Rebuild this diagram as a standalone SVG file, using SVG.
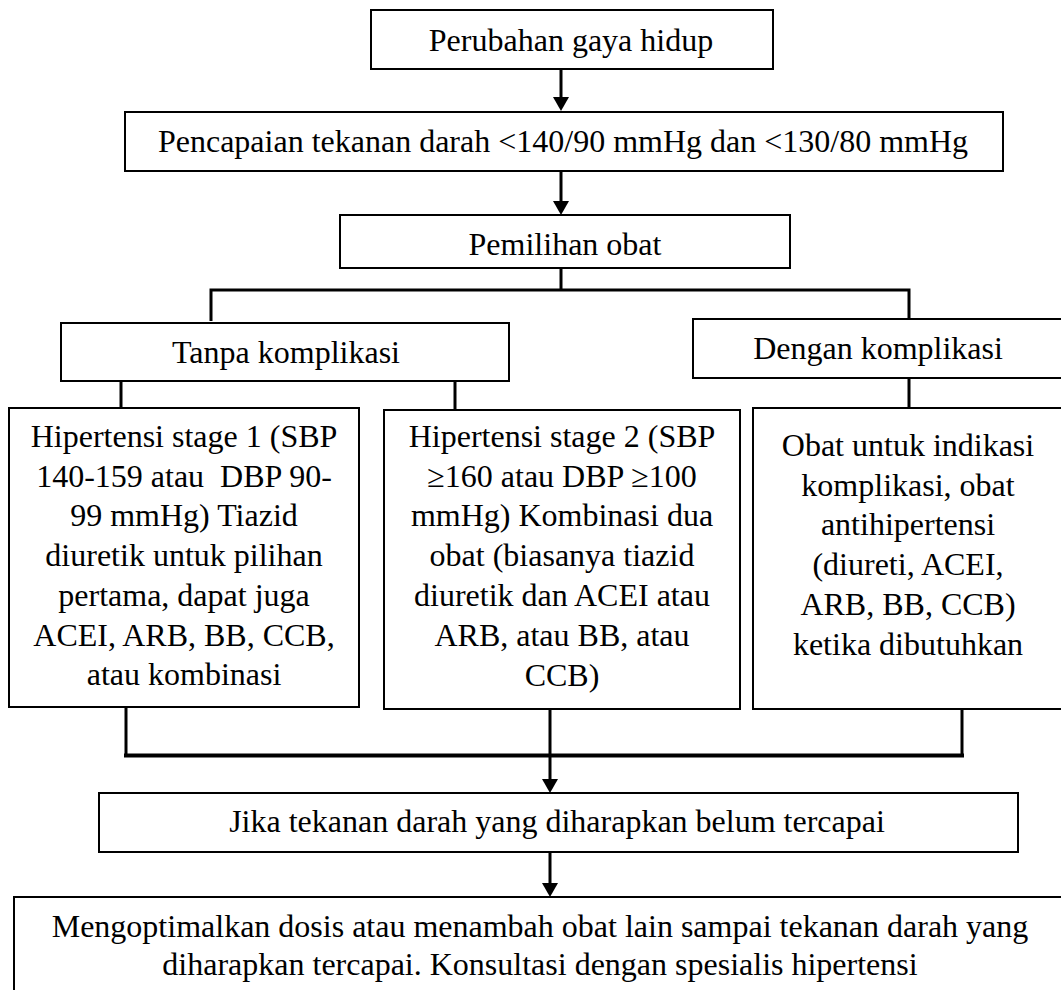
<svg xmlns="http://www.w3.org/2000/svg" width="1061" height="990" viewBox="0 0 1061 990">
<style>
.box{fill:#fff;stroke:#000;stroke-width:2}
.t{font-family:"Liberation Serif","Times New Roman",serif;font-size:32px;fill:#000;text-anchor:middle;white-space:pre}
.c{fill:none;stroke:#000;stroke-width:3}
.thick{fill:none;stroke:#000;stroke-width:4}
</style>
<defs>
<marker id="arr" markerUnits="userSpaceOnUse" viewBox="0 0 14 16" markerWidth="14" markerHeight="16" refX="8" refY="8" orient="auto">
<path d="M0,0 L14,8 L0,16 z" fill="#000"/>
</marker>
</defs>
<rect width="1061" height="990" fill="#fff"/>
<g id="connectors">
<line class="c" x1="561" y1="69" x2="561" y2="105" marker-end="url(#arr)"/>
<line class="c" x1="561" y1="171" x2="561" y2="209" marker-end="url(#arr)"/>
<polyline class="c" points="211,321 211,290 909,290 909,320"/>
<line class="c" x1="561" y1="268" x2="561" y2="290"/>
<line class="c" x1="121" y1="381" x2="121" y2="409"/>
<line class="c" x1="455" y1="381" x2="455" y2="411"/>
<line class="c" x1="909" y1="378" x2="909" y2="409"/>
<polyline class="c" points="126,707 126,755"/>
<polyline class="c" points="962,709 962,757"/>
<line class="thick" x1="124" y1="755.5" x2="964" y2="755.5"/>
<line class="c" x1="550" y1="709" x2="550" y2="787" marker-end="url(#arr)"/>
<line class="c" x1="550" y1="852" x2="550" y2="891" marker-end="url(#arr)"/>
</g>
<g id="n1">
<rect class="box" x="371" y="10" width="402" height="59"/>
<text class="t" x="571" y="51">Perubahan gaya hidup</text>
</g>
<g id="n2">
<rect class="box" x="125" y="112" width="878" height="59"/>
<text class="t" x="563" y="152">Pencapaian tekanan darah &lt;140/90 mmHg dan &lt;130/80 mmHg</text>
</g>
<g id="n3">
<rect class="box" x="340" y="215" width="450" height="53"/>
<text class="t" x="565" y="255">Pemilihan obat</text>
</g>
<g id="n4">
<rect class="box" x="61" y="323" width="448" height="58"/>
<text class="t" x="286" y="363">Tanpa komplikasi</text>
</g>
<g id="n5">
<rect class="box" x="693" y="319" width="372" height="59"/>
<text class="t" x="878" y="359">Dengan komplikasi</text>
</g>
<g id="n6">
<rect class="box" x="9" y="408" width="350" height="299"/>
<text class="t" x="184" y="447">Hipertensi stage 1 (SBP</text>
<text class="t" x="184" y="487">140-159 atau  DBP 90-</text>
<text class="t" x="184" y="526">99 mmHg) Tiazid</text>
<text class="t" x="184" y="566">diuretik untuk pilihan</text>
<text class="t" x="184" y="606">pertama, dapat juga</text>
<text class="t" x="184" y="646">ACEI, ARB, BB, CCB,</text>
<text class="t" x="184" y="685">atau kombinasi</text>
</g>
<g id="n7">
<rect class="box" x="384" y="410" width="356" height="299"/>
<text class="t" x="562" y="447">Hipertensi stage 2 (SBP</text>
<text class="t" x="562" y="487">≥160 atau DBP ≥100</text>
<text class="t" x="562" y="526">mmHg) Kombinasi dua</text>
<text class="t" x="562" y="566">obat (biasanya tiazid</text>
<text class="t" x="562" y="606">diuretik dan ACEI atau</text>
<text class="t" x="562" y="646">ARB, atau BB, atau</text>
<text class="t" x="562" y="686">CCB)</text>
</g>
<g id="n8">
<rect class="box" x="753" y="408" width="312" height="301"/>
<text class="t" x="908" y="456">Obat untuk indikasi</text>
<text class="t" x="908" y="496">komplikasi, obat</text>
<text class="t" x="908" y="535">antihipertensi</text>
<text class="t" x="908" y="575">(diureti, ACEI,</text>
<text class="t" x="908" y="615">ARB, BB, CCB)</text>
<text class="t" x="908" y="655">ketika dibutuhkan</text>
</g>
<g id="n9">
<rect class="box" x="99" y="793" width="919" height="59"/>
<text class="t" x="557" y="832">Jika tekanan darah yang diharapkan belum tercapai</text>
</g>
<g id="n10">
<rect class="box" x="14" y="897" width="1054" height="100"/>
<text class="t" x="540" y="937">Mengoptimalkan dosis atau menambah obat lain sampai tekanan darah yang</text>
<text class="t" x="540" y="975">diharapkan tercapai. Konsultasi dengan spesialis hipertensi</text>
</g>
</svg>
